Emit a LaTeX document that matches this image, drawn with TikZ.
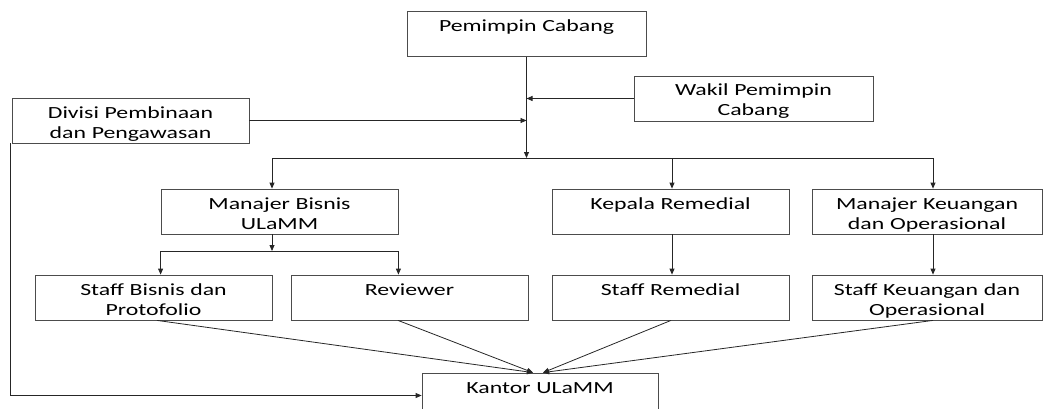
\documentclass[tikz,border=0pt]{standalone}
\usepackage{fontspec}
\setmainfont{Carlito}[FakeStretch=1.4]
\usetikzlibrary{arrows.meta,positioning}

\begin{document}
\begin{tikzpicture}[x=1pt, y=-1pt,
        unit/.style={draw=black!70, line width=0.8pt, inner sep=0pt, text width=#1, minimum width=#1,
            align=center, text height=20pt, text depth=25pt, font=\fontsize{17}{20}\selectfont},
        unit/.default=237pt,
        link/.style={draw=black!85, line width=0.8pt, -{Triangle[length=6pt,width=5pt]}},
        plain/.style={draw=black!85, line width=0.8pt}
    ]
        \useasboundingbox (0,0) rectangle (1043,409);
        \clip (0,0) rectangle (1043,409);

        % Nodes
        \node[unit=239pt] (pc) at (526.5,34) {Pemimpin Cabang};
        \node[unit=239pt] (wakil) at (753.5,98.5) {Wakil Pemimpin\\Cabang};
        \node[unit] (divisi) at (130.5,120.5) {Divisi Pembinaan\\dan Pengawasan};
        \node[unit] (mbis) at (279.5,211.5) {Manajer Bisnis\\ULaMM};
        \node[unit] (krem) at (670.5,211.5) {Kepala Remedial};
        \node[unit=230pt] (mkeu) at (927,211.5) {Manajer Keuangan\\dan Operasional};
        \node[unit] (sbis) at (153.5,297.5) {Staff Bisnis dan\\Protofolio};
        \node[unit] (rev) at (409.5,297.5) {Reviewer};
        \node[unit] (srem) at (670.5,297.5) {Staff Remedial};
        \node[unit=230pt] (skeu) at (927,297.5) {Staff Keuangan dan\\Operasional};
        \node[unit=236pt] (kantor) at (540,395.5) {Kantor ULaMM};

        % Junctions
        \coordinate (hub) at (526.5,158);
        \coordinate (split) at (272,251);
        \coordinate (kin1) at ([xshift=-7pt]kantor.north);
        \coordinate (kin2) at ([xshift=3pt]kantor.north);

        % Edges
        \draw[link] (pc.south) -- (hub);
        \draw[link] (wakil.west) -- (wakil.west -| pc.south);
        \draw[link] (divisi.east) -- (divisi.east -| pc.south);
        \draw[link] (hub) -| ([xshift=-7.5pt]mbis.north);
        \draw[link] (hub) -| ([xshift=1.5pt]krem.north);
        \draw[link] (hub) -| ([xshift=6pt]mkeu.north);

        \draw[link] ([xshift=-7.5pt]mbis.south) -- (split);
        \draw[link] (split) -| (mbis.west |- sbis.north);
        \draw[link] (split) -| (mbis.east |- rev.north);
        \draw[link] ([xshift=1.5pt]krem.south) -- ([xshift=1.5pt]srem.north);
        \draw[link] ([xshift=6pt]mkeu.south) -- ([xshift=6pt]skeu.north);

        \draw[link] ([xshift=3.5pt]sbis.south) -- (kin1);
        \draw[link] ([xshift=-11.5pt]rev.south) -- (kin1);
        \draw[link] ([xshift=0.5pt]srem.south) -- (kin2);
        \draw[link] ([xshift=6pt]skeu.south) -- (kin2);
        \draw[link] ([xshift=-1pt]divisi.south west) |- (kantor.west);
    \end{tikzpicture}
\end{document}
